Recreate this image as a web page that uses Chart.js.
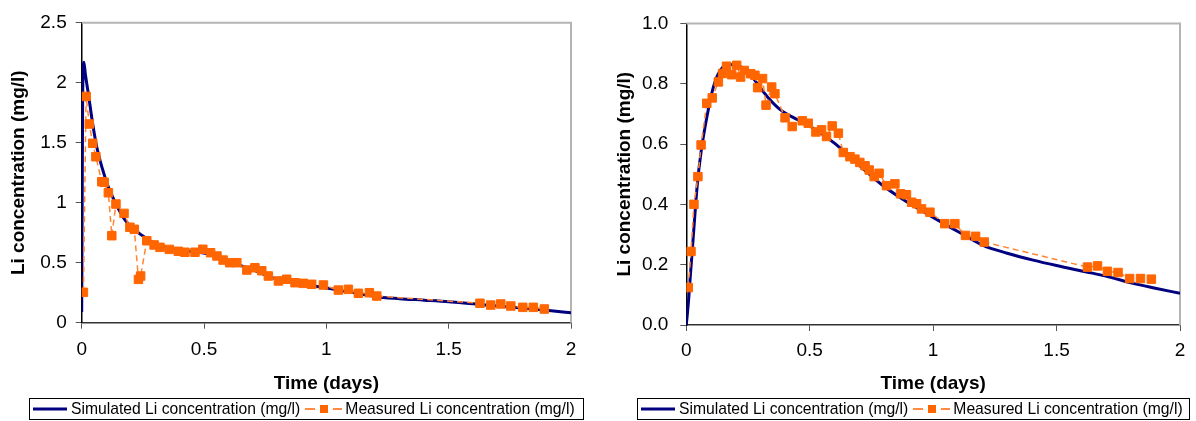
<!DOCTYPE html>
<html>
<head>
<meta charset="utf-8">
<script src="https://cdn.jsdelivr.net/npm/chart.js@4"></script>
<style>
  body { margin: 0; background: #fff; width: 1196px; height: 421px; position: relative; overflow: hidden;
         font-family: "Liberation Sans", Arial, sans-serif; }
  .wrap { position: absolute; top: 0; width: 598px; height: 421px; }
  .legend { position: absolute; top: 398px; height: 22px; border: 1px solid #000; box-sizing: border-box;
            display: flex; align-items: center; font-size: 15.7px; white-space: nowrap; color: #000; }
  .legend svg { display: block; }
</style>
</head>
<body>
<div class="wrap" style="left:0"><canvas id="leftChart" width="598" height="421"></canvas></div>
<div class="wrap" style="left:598px"><canvas id="rightChart" width="598" height="421"></canvas></div>
<div class="legend" id="leftLegend" style="left:29px;width:555px"></div>
<div class="legend" id="rightLegend" style="left:637px;width:553px"></div>

<script>
// series names
const simName = 'Simulated Li concentration (mg/l)';
const measName = 'Measured Li concentration (mg/l)';

// tick labels
const xTickLabels = ['0', '0.5', '1', '1.5', '2'];
const leftYTickLabels = ['0', '0.5', '1', '1.5', '2', '2.5'];
const rightYTickLabels = ['0.0', '0.2', '0.4', '0.6', '0.8', '1.0'];

// left chart - simulated
const leftSimDays = [0, 0.002, 0.004, 0.009, 0.015, 0.027, 0.047, 0.061, 0.082, 0.109, 0.133, 0.177, 0.245, 0.313,
  0.4, 0.5, 0.55, 0.6, 0.7, 0.8, 0.9, 1.0, 1.1, 1.2, 1.3, 1.4, 1.5, 1.6, 1.7, 1.8, 1.9, 2.0];
const leftSimConc = [0.09, 1.0, 1.9, 2.17, 2.07, 1.91, 1.63, 1.47, 1.30, 1.13, 1.02, 0.856, 0.73, 0.648,
  0.605, 0.58, 0.55, 0.51, 0.44, 0.36, 0.32, 0.29, 0.255, 0.217, 0.2, 0.188, 0.175, 0.157, 0.14, 0.122, 0.103, 0.083];

// left chart - measured
const leftMeasDays = [0.007, 0.018, 0.031, 0.045, 0.058, 0.082, 0.092, 0.109, 0.123, 0.140, 0.173, 0.197, 0.215,
  0.232, 0.241, 0.266, 0.296, 0.32, 0.358, 0.395, 0.422, 0.463, 0.495, 0.527, 0.553, 0.578, 0.605, 0.634, 0.675,
  0.708, 0.736, 0.763, 0.804, 0.838, 0.872, 0.906, 0.94, 0.988, 1.049, 1.09, 1.131, 1.176, 1.206,
  1.628, 1.672, 1.713, 1.754, 1.803, 1.846, 1.891];
const leftMeasConc = [0.253, 1.886, 1.656, 1.495, 1.383, 1.175, 1.17, 1.083, 0.725, 0.989, 0.911, 0.795, 0.778,
  0.361, 0.389, 0.683, 0.648, 0.628, 0.611, 0.595, 0.587, 0.587, 0.612, 0.583, 0.556, 0.522, 0.5, 0.5, 0.439,
  0.458, 0.433, 0.389, 0.348, 0.362, 0.333, 0.328, 0.32, 0.314, 0.272, 0.278, 0.245, 0.25, 0.222,
  0.162, 0.147, 0.156, 0.139, 0.128, 0.128, 0.114];

// right chart - simulated
const rightSimDays = [0, 0.01, 0.015, 0.028, 0.045, 0.06, 0.083, 0.109, 0.136, 0.17, 0.2, 0.25, 0.285, 0.33,
  0.379, 0.447, 0.5, 0.6, 0.7, 0.8, 0.9, 1.0, 1.1, 1.202, 1.3, 1.405, 1.5, 1.621, 1.7, 1.81, 1.9, 2.0];
const rightSimConc = [0, 0.09, 0.148, 0.29, 0.47, 0.575, 0.688, 0.787, 0.842, 0.864, 0.862, 0.84, 0.803, 0.755,
  0.715, 0.682, 0.66, 0.603, 0.53, 0.46, 0.405, 0.357, 0.31, 0.264, 0.238, 0.215, 0.197, 0.176, 0.162, 0.138, 0.122, 0.105];

// right chart - measured
const rightMeasDays = [0.008, 0.019, 0.031, 0.047, 0.06, 0.083, 0.105, 0.13, 0.147, 0.163, 0.184, 0.204, 0.22,
  0.235, 0.261, 0.278, 0.289, 0.309, 0.323, 0.346, 0.359, 0.4, 0.429, 0.47, 0.494, 0.525, 0.548, 0.568, 0.591,
  0.616, 0.636, 0.663, 0.683, 0.703, 0.724, 0.741, 0.761, 0.781, 0.811, 0.845, 0.868, 0.892, 0.913, 0.933, 0.953,
  0.987, 1.047, 1.088, 1.131, 1.172, 1.207, 1.625, 1.666, 1.706, 1.749, 1.796, 1.84, 1.884];
const rightMeasConc = [0.124, 0.244, 0.4, 0.492, 0.597, 0.735, 0.753, 0.806, 0.834, 0.858, 0.83, 0.861, 0.822,
  0.844, 0.833, 0.828, 0.787, 0.817, 0.729, 0.789, 0.767, 0.687, 0.658, 0.677, 0.669, 0.64, 0.647, 0.625, 0.66,
  0.636, 0.572, 0.558, 0.55, 0.539, 0.528, 0.514, 0.492, 0.503, 0.462, 0.468, 0.435, 0.432, 0.407, 0.402, 0.385,
  0.374, 0.336, 0.336, 0.297, 0.294, 0.275, 0.192, 0.196, 0.178, 0.174, 0.154, 0.154, 0.152];

Chart.defaults.font.family = '"Liberation Sans", Arial, sans-serif';
Chart.defaults.color = '#000';

const toPoints = (xs, ys) => xs.map((x, i) => ({ x: x, y: ys[i] }));

// grey top/right frame of the plot area (Excel style)
const plotFrame = {
  id: 'plotFrame',
  beforeDatasetsDraw(chart) {
    const { ctx, chartArea: a } = chart;
    ctx.save();
    ctx.strokeStyle = '#b4b4b4';
    ctx.lineWidth = 2;
    ctx.beginPath();
    ctx.moveTo(a.left, a.top);
    ctx.lineTo(a.right, a.top);
    ctx.lineTo(a.right, a.bottom);
    ctx.stroke();
    ctx.restore();
  }
};

function makeChart(id, simX, simY, measX, measY, yMax, yStep, yLabels, lay) {
  const ctx = document.getElementById(id).getContext('2d');
  return new Chart(ctx, {
    type: 'line',
    data: {
      datasets: [
        {
          label: measName,
          data: toPoints(measX, measY),
          order: 0,
          borderColor: '#ff8533',
          borderWidth: 1.5,
          borderDash: [6, 4],
          pointStyle: 'rect',
          pointRadius: 6,
          pointBackgroundColor: '#ff6600',
          pointBorderColor: '#ff6600',
          pointBorderWidth: 1
        },
        {
          label: simName,
          data: toPoints(simX, simY),
          order: 1,
          borderColor: '#000080',
          borderWidth: 3,
          pointRadius: 0,
          cubicInterpolationMode: 'monotone'
        }
      ]
    },
    options: {
      responsive: false,
      animation: false,
      events: [],
      layout: { padding: { left: 0, right: lay.padRight, top: lay.padTop, bottom: 26 } },
      plugins: { legend: { display: false }, tooltip: { enabled: false } },
      scales: {
        x: {
          type: 'linear',
          min: 0, max: 2,
          afterFit: s => { s.height = lay.xHeight; },
          ticks: {
            stepSize: 0.5,
            padding: lay.xTickPad,
            font: { size: 19 },
            maxRotation: 0,
            callback: (v, i) => xTickLabels[i]
          },
          grid: { display: true, drawOnChartArea: false, tickLength: 6, color: '#555' },
          border: { color: '#333', width: 1.5 },
          title: { display: true, text: 'Time (days)', font: { size: 19, weight: 'bold' }, padding: { top: 0, bottom: 0 } }
        },
        y: {
          min: 0, max: yMax,
          afterFit: s => { s.width = lay.yWidth; },
          ticks: {
            stepSize: yStep,
            padding: lay.yTickPad,
            font: { size: 19 },
            callback: (v, i) => yLabels[i]
          },
          grid: { display: true, drawOnChartArea: false, tickLength: 6, color: '#555' },
          border: { color: '#000', width: 1.5 },
          title: { display: true, text: 'Li concentration (mg/l)', font: { size: 19, weight: 'bold' }, padding: { top: lay.yTitlePad, bottom: 0 } }
        }
      }
    },
    plugins: [plotFrame]
  });
}

const leftChart = makeChart('leftChart', leftSimDays, leftSimConc, leftMeasDays, leftMeasConc,
  2.5, 0.5, leftYTickLabels,
  { padRight: 27, padTop: 22.7, xHeight: 72.3, yWidth: 81.7, xTickPad: 10, yTickPad: 9, yTitlePad: 7 });
const rightChart = makeChart('rightChart', rightSimDays, rightSimConc, rightMeasDays, rightMeasConc,
  1.0, 0.2, rightYTickLabels,
  { padRight: 16, padTop: 22, xHeight: 70, yWidth: 88.3, xTickPad: 8, yTickPad: 12, yTitlePad: 15.6 });

// html legend with Excel-like line samples
function sampleSvg(ds) {
  if (ds.borderDash && ds.borderDash.length) {
    return '<svg width="37" height="12">' +
      '<line x1="0" y1="6" x2="10" y2="6" stroke="#ff6600" stroke-width="1.5"/>' +
      '<rect x="15" y="2" width="8" height="8" fill="#ff6600"/>' +
      '<line x1="28" y1="6" x2="37" y2="6" stroke="#ff6600" stroke-width="1.5"/></svg>';
  }
  return '<svg width="34" height="12"><line x1="0" y1="6" x2="34" y2="6" stroke="#000080" stroke-width="3"/></svg>';
}

function buildLegend(chart, elId) {
  const el = document.getElementById(elId);
  const ds = chart.data.datasets.slice().reverse();
  el.innerHTML =
    '<span style="margin-left:3px">' + sampleSvg(ds[0]) + '</span>' +
    '<span style="margin-left:4px">' + ds[0].label + '</span>' +
    '<span style="margin-left:5px">' + sampleSvg(ds[1]) + '</span>' +
    '<span style="margin-left:3px">' + ds[1].label + '</span>';
}
buildLegend(leftChart, 'leftLegend');
buildLegend(rightChart, 'rightLegend');
</script>
</body>
</html>
